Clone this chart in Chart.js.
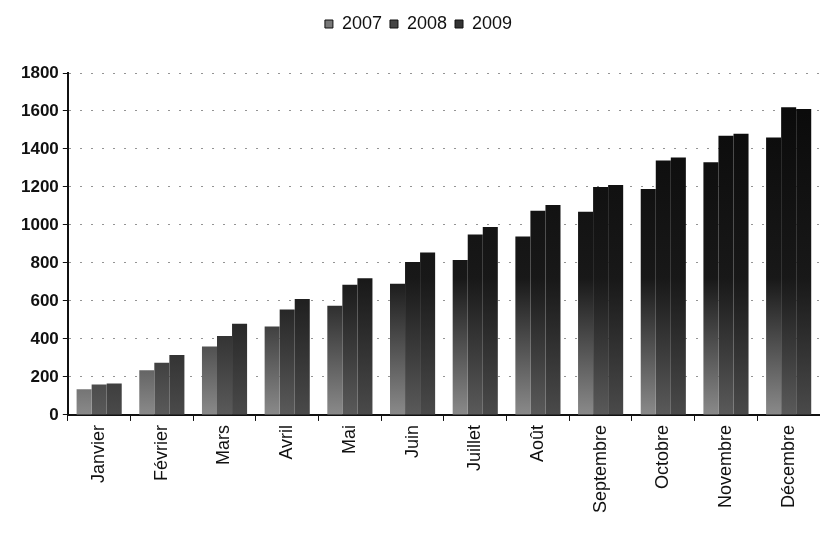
<!DOCTYPE html>
<html>
<head>
<meta charset="utf-8">
<script src="https://cdn.jsdelivr.net/npm/chart.js@4/dist/chart.umd.min.js"></script>
<style>
  html, body { margin: 0; padding: 0; background: #fff; }
  #wrap { width: 820px; height: 535px; }
</style>
</head>
<body>
<div id="wrap"><canvas id="chart" width="820" height="535"></canvas></div>
<script>
const months = ['Janvier', 'Février', 'Mars', 'Avril', 'Mai', 'Juin', 'Juillet', 'Août', 'Septembre', 'Octobre', 'Novembre', 'Décembre'];
const years = ['2007', '2008', '2009'];
const values2007 = [135, 235, 360, 465, 575, 690, 815, 940, 1070, 1190, 1330, 1460];
const values2008 = [160, 275, 415, 555, 685, 805, 950, 1075, 1200, 1340, 1470, 1620];
const values2009 = [165, 315, 480, 610, 720, 855, 990, 1105, 1210, 1355, 1480, 1610];
const yTicks = [0, 200, 400, 600, 800, 1000, 1200, 1400, 1600, 1800];

// Note: scanned bars go from near black on top to a speckled grey at the bottom
const makeFill = (light) => (context) => {
    const area = context.chart.chartArea;
    if (!area) return '#222';
    const g = context.chart.ctx.createLinearGradient(0, area.top, 0, area.bottom);
    g.addColorStop(0, '#080808');
    g.addColorStop(0.6, '#181818');
    g.addColorStop(1, light);
    return g;
};

// extra room under the legend, like the scan
const legendMargin = {
    id: 'legendMargin',
    beforeLayout(chart) {
        const legend = chart.legend;
        if (!legend || legend._patched) return;
        const fit = legend.fit;
        legend.fit = function () {
            fit.call(this);
            this.height += 30;
        };
        legend._patched = true;
    }
};

const ctx = document.getElementById('chart').getContext('2d');
new Chart(ctx, {
    type: 'bar',
    data: {
        labels: months,
        datasets: [
            { label: years[0], data: values2007, backgroundColor: makeFill('#8a8a8a'), borderWidth: 0 },
            { label: years[1], data: values2008, backgroundColor: makeFill('#5a5a5a'), borderWidth: 0 },
            { label: years[2], data: values2009, backgroundColor: makeFill('#4a4a4a'), borderWidth: 0 },
        ]
    },
    plugins: [legendMargin],
    options: {
        responsive: false,
        animation: false,
        layout: { padding: { left: 17, right: 0, top: 7, bottom: 18 } },
        datasets: {
            bar: { categoryPercentage: 0.72, barPercentage: 1.0 }
        },
        plugins: {
            legend: {
                position: 'top',
                labels: {
                    color: '#111',
                    font: { family: 'Liberation Sans, Arial, sans-serif', size: 18 },
                    boxWidth: 8,
                    boxHeight: 8,
                    padding: 8,
                    generateLabels: (chart) => chart.data.datasets.map((ds, i) => ({
                        text: ds.label,
                        fillStyle: ['#777', '#444', '#333'][i],
                        strokeStyle: '#111',
                        lineWidth: 1,
                        datasetIndex: i,
                        fontColor: '#111'
                    }))
                }
            },
            tooltip: { enabled: false }
        },
        scales: {
            x: {
                offset: true,
                grid: { display: true, drawOnChartArea: false, color: '#111', tickLength: 6, offset: true },
                border: { display: true, color: '#111', width: 2 },
                ticks: {
                    color: '#111',
                    maxRotation: 90,
                    minRotation: 90,
                    padding: 4,
                    font: { family: 'Liberation Sans, Arial, sans-serif', size: 18 }
                }
            },
            y: {
                min: 0,
                max: 1800,
                afterBuildTicks: (axis) => { axis.ticks = yTicks.map(v => ({ value: v })); },
                grid: {
                    color: 'rgba(60,60,60,0.55)',
                    tickLength: 5,
                    tickColor: '#111'
                },
                border: { display: true, color: '#111', width: 2, dash: [2, 9] },
                ticks: {
                    color: '#111',
                    padding: 4,
                    callback: (v) => String(v),
                    font: { family: 'Liberation Sans, Arial, sans-serif', size: 17, weight: 'bold' }
                }
            }
        }
    }
});
</script>
</body>
</html>
